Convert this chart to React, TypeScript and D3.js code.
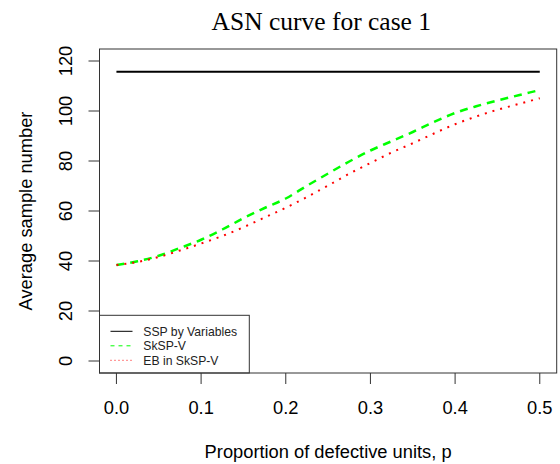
import * as d3 from "d3";

const W = 560;
const H = 464;
const MARGIN = { top: 49, right: 3.3, bottom: 91, left: 99.5 };

// proportion of defective units
const pValues = [0, 0.025, 0.05, 0.075, 0.1, 0.125, 0.15, 0.175, 0.2, 0.225, 0.25, 0.275, 0.3, 0.325, 0.35, 0.375, 0.4, 0.425, 0.45, 0.475, 0.5];
const sspValue = 115.7;
const skspV = [38.4, 39.9, 42.1, 45.2, 48.5, 52.6, 57.1, 61.2, 65.0, 70.1, 75.0, 79.8, 84.2, 87.9, 91.6, 95.6, 99.2, 101.9, 104.2, 106.3, 108.4];
const ebSkspV = [38.4, 39.6, 41.6, 44.2, 47.0, 50.0, 53.5, 57.4, 61.3, 65.6, 70.2, 74.9, 79.2, 83.4, 87.1, 91.0, 94.7, 97.8, 100.5, 102.8, 105.1];

const xTicks = [0, 0.1, 0.2, 0.3, 0.4, 0.5];
const yTicks = [0, 20, 40, 60, 80, 100, 120];
const legendItems = [
  { label: "SSP by Variables", color: "#000", dash: "none" },
  { label: "SkSP-V", color: "#00ff00", dash: "4,4" },
  { label: "EB in SkSP-V", color: "#ff0000", dash: "1,3" },
];

const SANS = "'Liberation Sans', Arial, sans-serif";
const SERIF = "'Liberation Serif', 'Times New Roman', serif";
const AXIS_FONT = 18.3;

export default function App() {
  const boundsWidth = W - MARGIN.left - MARGIN.right;
  const boundsHeight = H - MARGIN.top - MARGIN.bottom;

  // R style 4% padding around the data range
  const xScale = d3.scaleLinear().domain([-0.02, 0.52]).range([0, boundsWidth]);
  const yScale = d3.scaleLinear().domain([-4.8, 124.8]).range([boundsHeight, 0]);

  const line = d3
    .line<number>()
    .x((_, i) => xScale(pValues[i]))
    .y((d) => yScale(d))
    .curve(d3.curveMonotoneX);

  const sspLine = line(pValues.map(() => sspValue)) || "";

  return (
    <svg width={W} height={H} style={{ position: "absolute", left: 0, top: 0, background: "#fff" }}>
      <text x={321.3} y={29.5} textAnchor="middle" fontFamily={SERIF} fontSize={25.5}>
        ASN curve for case 1
      </text>
      <g transform={`translate(${MARGIN.left},${MARGIN.top})`}>
        <path d={sspLine} fill="none" stroke="#000" strokeWidth={2} />
        <path d={line(skspV) || ""} fill="none" stroke="#00ff00" strokeWidth={2.5} strokeDasharray="8,6" />
        <path d={line(ebSkspV) || ""} fill="none" stroke="#ff0000" strokeWidth={2} strokeDasharray="2,6" />

        {/* legend */}
        <g transform={`translate(0,${boundsHeight - 57.7})`}>
          <rect x={0} y={0} width={149.8} height={57.7} fill="#fff" stroke="#333" strokeWidth={1} />
          {legendItems.map((d, i) => (
            <g key={d.label} transform={`translate(0,${16 + i * 14.5})`}>
              <line x1={11} x2={33} y1={0} y2={0} stroke={d.color} strokeWidth={1} strokeDasharray={d.dash} />
              <text x={43.8} y={4.3} fontFamily={SANS} fontSize={12.2} fill="#222">
                {d.label}
              </text>
            </g>
          ))}
        </g>

        <rect x={0} y={0} width={boundsWidth} height={boundsHeight} fill="none" stroke="#333" strokeWidth={1} />

        {/* x axis */}
        {xTicks.map((t) => (
          <g key={t} transform={`translate(${xScale(t)},${boundsHeight})`}>
            <line y1={0} y2={11} stroke="#333" />
            <text y={40.5} textAnchor="middle" fontFamily={SANS} fontSize={AXIS_FONT}>
              {t.toFixed(1)}
            </text>
          </g>
        ))}
        <text x={boundsWidth / 2} y={boundsHeight + 85.3} textAnchor="middle" fontFamily={SANS} fontSize={AXIS_FONT}>
          Proportion of defective units, p
        </text>

        {/* y axis */}
        {yTicks.map((t) => (
          <g key={t} transform={`translate(0,${yScale(t)})`}>
            <line x1={0} x2={-11} stroke="#333" />
            <text transform="translate(-27.5,0) rotate(-90)" textAnchor="middle" fontFamily={SANS} fontSize={AXIS_FONT}>
              {t}
            </text>
          </g>
        ))}
        <text
          transform={`translate(${-68},${boundsHeight / 2}) rotate(-90)`}
          textAnchor="middle"
          fontFamily={SANS}
          fontSize={AXIS_FONT}
        >
          Average sample number
        </text>
      </g>
    </svg>
  );
}
